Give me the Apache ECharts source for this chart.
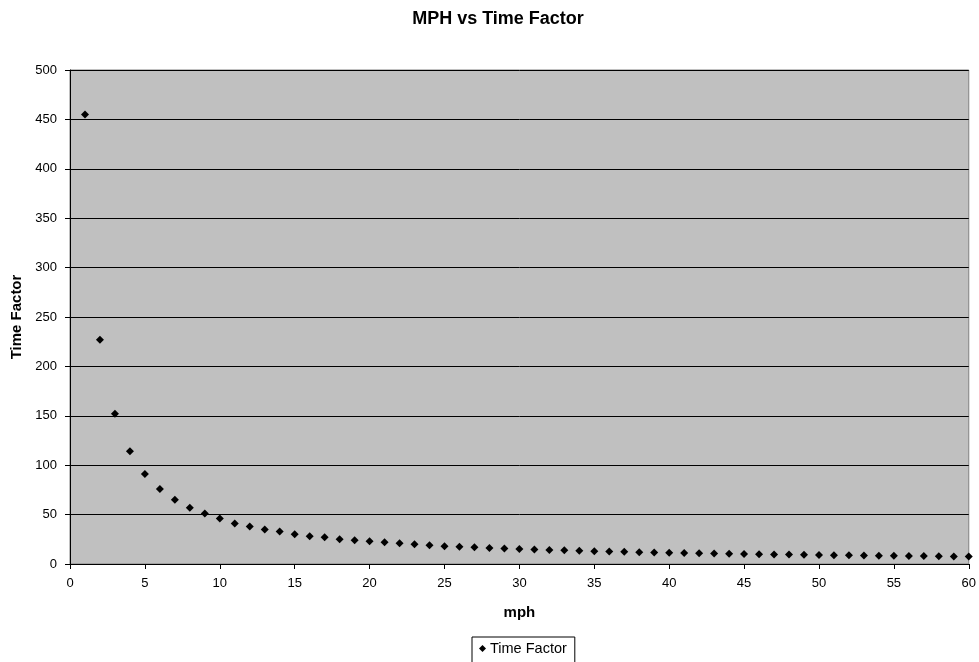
<!DOCTYPE html>
<html>
<head>
<meta charset="utf-8">
<script src="https://cdn.jsdelivr.net/npm/echarts@6/dist/echarts.min.js"></script>
<style>
  html, body { margin: 0; padding: 0; background: #fff; }
  #chart { width: 979px; height: 662px; }
</style>
</head>
<body>
<div id="chart"></div>
<script type="text/javascript">
  // values
  var mph = [1, 2, 3, 4, 5, 6, 7, 8, 9, 10,
             11, 12, 13, 14, 15, 16, 17, 18, 19, 20,
             21, 22, 23, 24, 25, 26, 27, 28, 29, 30,
             31, 32, 33, 34, 35, 36, 37, 38, 39, 40,
             41, 42, 43, 44, 45, 46, 47, 48, 49, 50,
             51, 52, 53, 54, 55, 56, 57, 58, 59, 60];
  var timeFactor = [455, 227, 152, 114, 91, 76, 65, 57, 51, 46,
                    41, 38, 35, 33, 30, 28, 27, 25, 24, 23,
                    22, 21, 20, 19, 18, 17.5, 17, 16.3, 15.7, 15.2,
                    14.7, 14.2, 13.8, 13.4, 13, 12.6, 12.3, 12, 11.7, 11.4,
                    11.1, 10.8, 10.6, 10.3, 10.1, 9.9, 9.7, 9.5, 9.3, 9.1,
                    8.9, 8.75, 8.6, 8.4, 8.3, 8.1, 8, 7.8, 7.7, 7.6];
  var seriesName = 'Time Factor';

  var points = [];
  for (var i = 0; i < mph.length; i++) {
    points.push([mph[i], timeFactor[i]]);
  }

  var font = 'Liberation Sans, Arial, sans-serif';
  var chart = echarts.init(document.getElementById('chart'), null, { renderer: 'canvas' });

  var option = {
    backgroundColor: '#ffffff',
    animation: false,
    textStyle: { fontFamily: font },
    title: {
      text: 'MPH vs Time Factor',
      left: 493,
      top: 5,
      textAlign: 'center',
      textStyle: { fontFamily: font, fontSize: 18, fontWeight: 'bold', color: '#000' }
    },
    legend: {
      data: [seriesName],
      left: 472,
      top: 637,
      padding: [4, 8, 10, 7],
      itemWidth: 7,
      itemHeight: 7,
      itemGap: 4,
      borderColor: '#000',
      borderWidth: 1,
      backgroundColor: '#fff',
      borderRadius: 0,
      textStyle: { fontFamily: font, fontSize: 14.5, color: '#000', padding: [0, 0, 0, -1] }
    },
    grid: {
      left: 70,
      right: 8,
      top: 70,
      bottom: 98,
      show: true,
      backgroundColor: '#c0c0c0',
      borderColor: '#808080',
      borderWidth: 1
    },
    xAxis: {
      type: 'value',
      min: 0,
      max: 60,
      interval: 5,
      name: 'mph',
      nameLocation: 'middle',
      nameGap: 41,
      nameTextStyle: { fontFamily: font, fontSize: 15, fontWeight: 'bold', color: '#000' },
      axisLine: { show: true, onZero: false, lineStyle: { color: '#000', width: 1 } },
      axisTick: { show: true, inside: false, length: 5, lineStyle: { color: '#000' } },
      axisLabel: { margin: 13, fontFamily: font, fontSize: 13, color: '#000' },
      splitLine: { show: false }
    },
    yAxis: {
      type: 'value',
      min: 0,
      max: 500,
      interval: 50,
      name: 'Time Factor',
      nameLocation: 'middle',
      nameGap: 46,
      nameTextStyle: { fontFamily: font, fontSize: 15, fontWeight: 'bold', color: '#000' },
      axisLine: { show: true, lineStyle: { color: '#000', width: 1 } },
      axisTick: { show: true, inside: false, length: 5, lineStyle: { color: '#000' } },
      axisLabel: { margin: 13, fontFamily: font, fontSize: 13, color: '#000' },
      splitLine: { show: true, lineStyle: { color: '#000', width: 1 } }
    },
    series: [{
      name: seriesName,
      type: 'scatter',
      symbol: 'diamond',
      symbolSize: 8,
      itemStyle: { color: '#000', opacity: 1 },
      data: points
    }]
  };

  chart.setOption(option);
</script>
</body>
</html>
